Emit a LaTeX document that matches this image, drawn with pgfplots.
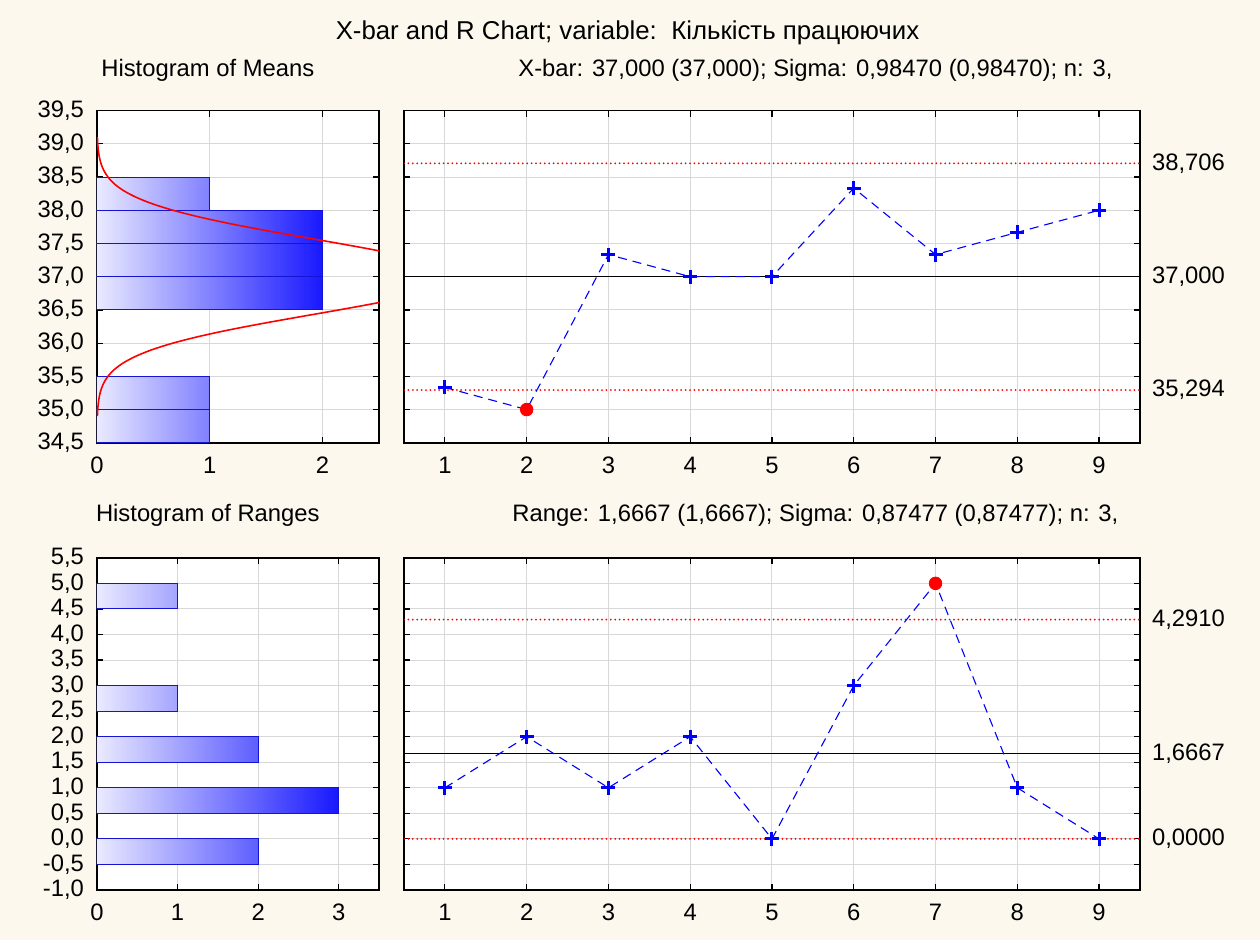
\documentclass[border=0pt]{standalone}
\usepackage{pgfplots}
\pgfplotsset{compat=1.18}
\usepackage{fontspec}
\setmainfont{Liberation Sans}
\definecolor{bg}{RGB}{253,248,238}
\definecolor{gridc}{RGB}{216,216,216}
\definecolor{barS}{RGB}{234,234,255}
\definecolor{barE}{RGB}{24,24,255}
\definecolor{barH}{RGB}{128,128,255}
\definecolor{barLa}{RGB}{164,164,255}
\definecolor{barLb}{RGB}{94,94,255}
\definecolor{barEdge}{RGB}{20,20,210}
\definecolor{ctlred}{RGB}{255,0,0}
\newcommand\fs{\fontsize{11.9}{14}\selectfont}
\pgfplotsset{
  base/.style={
    scale only axis, anchor=south west,
    axis background/.style={fill=white},
    axis line style={line width=0.9pt},
    tick align=inside, major tick length=3pt, minor tick length=3pt,
    tick style={black, line width=0.6pt},
    grid style={gridc, line width=0.5pt},
    ticklabel style={font=\fs},
    /pgf/number format/assume math mode=true,
    xticklabel shift=3.5pt,
  },
  hbar/.style={xbar, bar width=0.5, bar shift=0pt, draw=barEdge, line width=0.5pt, left color=barS},
  ctl/.style={color=ctlred, draw=ctlred, line width=1pt, line cap=round, dash pattern=on 0pt off 2.2pt, mark=none},
  ctr/.style={color=black, line width=0.7pt, mark=none},
  dline/.style={color=blue, line width=0.55pt, dash pattern=on 4.5pt off 3pt, mark=none},
  pmark/.style={only marks, mark=+, mark size=3.5pt, color=blue, mark options={line width=1.5pt}},
  rmark/.style={only marks, mark=*, mark size=3.15pt, color=red, mark options={fill=red, draw=red}},
}
\begin{document}
\begin{tikzpicture}
\useasboundingbox (0,0) rectangle (630pt,470pt);
\fill[bg] (0,0) rectangle (630pt,470pt);

% ---------- Histogram of Means ----------
\begin{axis}[base, at={(48.5pt,248.6pt)}, width=141pt, height=166.1pt,
  xmin=0, xmax=2.5, ymin=34.5, ymax=39.5,
  xtick={0,1,2}, ytick={34.5,35,35.5,36,36.5,37,37.5,38,38.5,39,39.5},
  xmajorgrids, ymajorgrids, xtick pos=both, ytick pos=both,
  yticklabel style={/pgf/number format/.cd, fixed, fixed zerofill, precision=1, use comma},
  yticklabel shift=3pt]
\addplot[hbar, right color=barH] coordinates {(1,34.75)};
\addplot[hbar, right color=barH] coordinates {(1,35.25)};
\addplot[hbar, right color=barE] coordinates {(2,36.75)};
\addplot[hbar, right color=barE] coordinates {(2,37.25)};
\addplot[hbar, right color=barE] coordinates {(2,37.75)};
\addplot[hbar, right color=barH] coordinates {(1,38.25)};
\addplot[red, line width=0.8pt, smooth] coordinates {
 (0.0035,34.9)(0.0065,35.0)(0.012,35.1)(0.021,35.2)(0.036,35.3)(0.060,35.4)(0.097,35.5)
 (0.152,35.6)(0.231,35.7)(0.341,35.8)(0.486,35.9)(0.673,36.0)(0.903,36.1)(1.174,36.2)
 (1.481,36.3)(1.811,36.4)(2.146,36.5)(2.467,36.6)(2.750,36.7)(2.970,36.8)(3.112,36.9)
 (3.160,37.0)(3.112,37.1)(2.970,37.2)(2.750,37.3)(2.467,37.4)(2.146,37.5)(1.811,37.6)
 (1.481,37.7)(1.174,37.8)(0.903,37.9)(0.673,38.0)(0.486,38.1)(0.341,38.2)(0.231,38.3)
 (0.152,38.4)(0.097,38.5)(0.060,38.6)(0.036,38.7)(0.021,38.8)(0.012,38.9)(0.0065,39.0)(0.0035,39.1)};
\end{axis}

% ---------- X-bar chart ----------
\begin{axis}[base, at={(202pt,248.6pt)}, width=368pt, height=166.1pt,
  xmin=0.5, xmax=9.5, ymin=34.5, ymax=39.5,
  xtick={1,2,3,4,5,6,7,8,9}, xmajorgrids,
  ytick={35.294,37,38.706}, yticklabels={{35,294},{37,000},{38,706}},
  minor ytick={34.5,35,35.5,36,36.5,37,37.5,38,38.5,39,39.5}, yminorgrids,
  major y tick style={draw=none},
  yticklabel pos=right, xtick pos=both, ytick pos=both,
  yticklabel shift=2.5pt]
\addplot[ctr] coordinates {(0.5,37)(9.5,37)};
\addplot[ctl] coordinates {(0.5,38.706)(9.5,38.706)};
\addplot[ctl] coordinates {(0.5,35.294)(9.5,35.294)};
\addplot[dline] coordinates {(1,35.333)(2,35)(3,37.333)(4,37)(5,37)(6,38.333)(7,37.333)(8,37.667)(9,38)};
\addplot[pmark] coordinates {(1,35.333)(3,37.333)(4,37)(5,37)(6,38.333)(7,37.333)(8,37.667)(9,38)};
\addplot[rmark] coordinates {(2,35)};
\end{axis}

% ---------- Histogram of Ranges ----------
\begin{axis}[base, at={(48.5pt,25pt)}, width=141pt, height=166.1pt,
  xmin=0, xmax=3.5, ymin=-1, ymax=5.5,
  xtick={0,1,2,3}, ytick={-1,-0.5,0,0.5,1,1.5,2,2.5,3,3.5,4,4.5,5,5.5},
  xmajorgrids, ymajorgrids, xtick pos=both, ytick pos=both,
  yticklabel style={/pgf/number format/.cd, fixed, fixed zerofill, precision=1, use comma},
  yticklabel shift=3pt]
\addplot[hbar, right color=barLb] coordinates {(2,-0.25)};
\addplot[hbar, right color=barE] coordinates {(3,0.75)};
\addplot[hbar, right color=barLb] coordinates {(2,1.75)};
\addplot[hbar, right color=barLa] coordinates {(1,2.75)};
\addplot[hbar, right color=barLa] coordinates {(1,4.75)};
\end{axis}

% ---------- R chart ----------
\begin{axis}[base, at={(202pt,25pt)}, width=368pt, height=166.1pt,
  xmin=0.5, xmax=9.5, ymin=-1, ymax=5.5,
  xtick={1,2,3,4,5,6,7,8,9}, xmajorgrids,
  ytick={0,1.6667,4.291}, yticklabels={{0,0000},{1,6667},{4,2910}},
  minor ytick={-1,-0.5,0,0.5,1,1.5,2,2.5,3,3.5,4,4.5,5,5.5}, yminorgrids,
  major y tick style={draw=none},
  yticklabel pos=right, xtick pos=both, ytick pos=both,
  yticklabel shift=2.5pt]
\addplot[ctr] coordinates {(0.5,1.6667)(9.5,1.6667)};
\addplot[ctl] coordinates {(0.5,4.291)(9.5,4.291)};
\addplot[ctl] coordinates {(0.5,0)(9.5,0)};
\addplot[dline] coordinates {(1,1)(2,2)(3,1)(4,2)(5,0)(6,3)(7,5)(8,1)(9,0)};
\addplot[pmark] coordinates {(1,1)(2,2)(3,1)(4,2)(5,0)(6,3)(8,1)(9,0)};
\addplot[rmark] coordinates {(7,5)};
\end{axis}

% ---------- Titles ----------
\node[font=\fontsize{12.9}{15}\selectfont, inner sep=0pt] at (313.75pt,453.5pt) {X-bar and R Chart; variable:\ \ Кількість працюючих};
\node[font=\fs, inner sep=0pt] at (103.9pt,435pt) {Histogram of Means};
\node[font=\fs, inner sep=0pt, anchor=west] at (259pt,435pt) {X-bar: 37,000 (37,000); Sigma: 0,98470 (0,98470); n: 3,};
\node[font=\fs, inner sep=0pt] at (103.9pt,212.5pt) {Histogram of Ranges};
\node[font=\fs, inner sep=0pt, anchor=west] at (256pt,212.5pt) {Range: 1,6667 (1,6667); Sigma: 0,87477 (0,87477); n: 3,};
\end{tikzpicture}
\end{document}
